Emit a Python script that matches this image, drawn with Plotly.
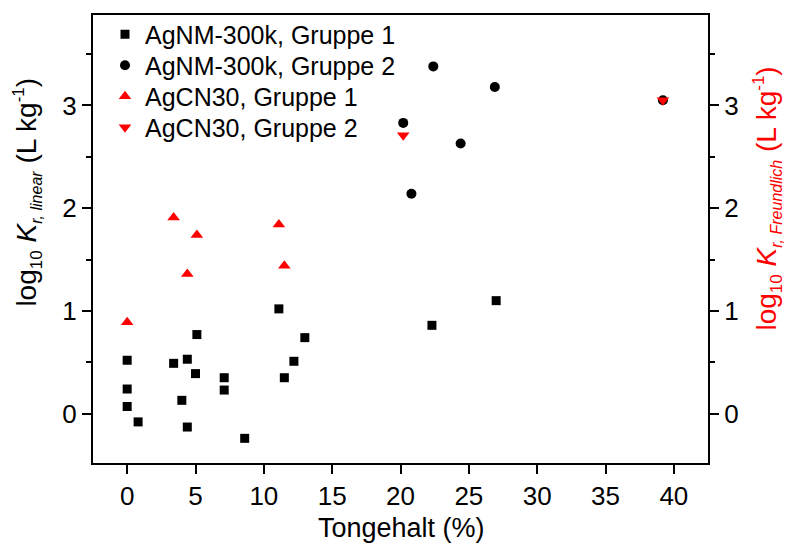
import plotly.graph_objects as go

# Data
g1_x = [0, 0, 0, 0.8, 3.4, 4.0, 4.4, 4.4, 5.0, 5.1, 7.1, 7.1, 8.6, 11.1, 11.5, 12.2, 13.0, 22.3, 27.0]
g1_y = [0.52, 0.24, 0.07, -0.08, 0.49, 0.13, 0.53, -0.13, 0.39, 0.77, 0.35, 0.23, -0.24, 1.02, 0.35, 0.51, 0.74, 0.86, 1.10]
g2_x = [22.4, 26.9, 20.2, 24.4, 20.8, 39.2]
g2_y = [3.38, 3.18, 2.83, 2.63, 2.14, 3.05]
cn1_x = [0, 3.4, 4.4, 5.1, 11.1, 11.5]
cn1_y = [0.89, 1.91, 1.36, 1.74, 1.84, 1.44]
cn2_x = [20.2, 39.2]
cn2_y = [2.71, 3.05]

names = ["AgNM-300k, Gruppe 1", "AgNM-300k, Gruppe 2", "AgCN30, Gruppe 1", "AgCN30, Gruppe 2"]
x_ticks = [0, 5, 10, 15, 20, 25, 30, 35, 40]
y_ticks = [0, 1, 2, 3]

font_family = "Liberation Sans, Arial, sans-serif"
tick_fs = 26
leg_fs = 25
title_fs = 27
ytitle_fs = 28
RED = "#ff0000"

fig = go.Figure()
fig.add_trace(go.Scatter(x=g1_x, y=g1_y, mode="markers", name=names[0], legend="legend",
                         marker=dict(symbol="square", size=9, color="black")))
fig.add_trace(go.Scatter(x=g2_x, y=g2_y, mode="markers", name=names[1], legend="legend2",
                         marker=dict(symbol="circle", size=10, color="black")))
fig.add_trace(go.Scatter(x=cn1_x, y=cn1_y, mode="markers", name=names[2], yaxis="y2", legend="legend3",
                         marker=dict(symbol="triangle-up", size=11, color=RED)))
fig.add_trace(go.Scatter(x=cn2_x, y=cn2_y, mode="markers", name=names[3], yaxis="y2", legend="legend4",
                         marker=dict(symbol="triangle-down", size=11, color=RED)))

yr = [-0.48, 3.88]
L, R, T, B = 93, 79, 14, 82
W, H = 787, 545
pw, ph = W - L - R, H - T - B


def px_x(p):
    return (p - L) / pw


def px_y(p):
    return (H - B - p) / ph


def leg(row_px):
    return dict(x=px_x(105), y=px_y(row_px), xanchor="left", yanchor="middle",
                bgcolor="rgba(0,0,0,0)", font=dict(size=leg_fs, color="black"))


axis_common = dict(ticks="outside", ticklen=9, tickwidth=2, tickcolor="black",
                   showline=True, linewidth=2, linecolor="black", showgrid=False, zeroline=False,
                   tickfont=dict(size=tick_fs, color="black"))
minor = dict(dtick=0.5, tick0=0, ticks="outside", ticklen=5, tickwidth=2, tickcolor="black")

fig.update_layout(
    width=W, height=H,
    margin=dict(l=L, r=R, t=T, b=B),
    paper_bgcolor="white", plot_bgcolor="white",
    font=dict(family=font_family, size=tick_fs, color="black"),
    showlegend=True,
    legend=leg(34.5), legend2=leg(65.5), legend3=leg(96.5), legend4=leg(127.5),
    xaxis=dict(range=[-2.5, 42.5], tickvals=x_ticks, mirror=True, **axis_common),
    yaxis=dict(range=yr, tickvals=y_ticks, minor=minor, **axis_common),
    yaxis2=dict(range=yr, tickvals=y_ticks, overlaying="y", side="right", minor=minor, **axis_common),
    annotations=[
        dict(text="Tongehalt (%)", xref="paper", yref="paper", x=px_x(401.5), y=px_y(528),
             xanchor="center", yanchor="middle", showarrow=False, font=dict(size=title_fs, color="black")),
        dict(text="log<sub><span style='font-size:17px'>10</span></sub> <i>K</i>"
                  "<sub><span style='font-size:16px'><i>r, linear</i></span></sub> (L kg"
                  "<sup><span style='font-size:17px'>-1</span></sup>)",
             xref="paper", yref="paper", x=px_x(28), y=px_y(192), textangle=-90,
             xanchor="center", yanchor="middle", showarrow=False, font=dict(size=ytitle_fs, color="black")),
        dict(text="log<sub><span style='font-size:17px'>10</span></sub> <i>K</i>"
                  "<sub><span style='font-size:16px'><i>r, Freundlich</i></span></sub> (L kg"
                  "<sup><span style='font-size:17px'>-1</span></sup>)",
             xref="paper", yref="paper", x=px_x(768), y=px_y(198), textangle=-90,
             xanchor="center", yanchor="middle", showarrow=False, font=dict(size=ytitle_fs, color=RED)),
    ],
)

fig.write_html("out.html")
